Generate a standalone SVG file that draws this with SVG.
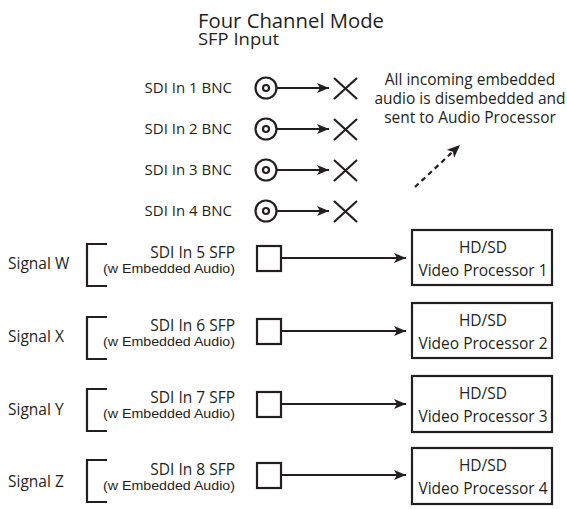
<svg xmlns="http://www.w3.org/2000/svg" width="567" height="509" viewBox="0 0 567 509">
<style>
text{font-family:"Open Sans","Liberation Sans",sans-serif;fill:#231f20}
.lbl{font-size:15px;text-anchor:end}
.sfl{font-size:15.5px;text-anchor:end}
.sub{font-family:"Liberation Sans",sans-serif;font-size:12px;text-anchor:end}
.sig{font-size:15.5px}
.box{fill:#fff;stroke:#231f20;stroke-width:2.2}
.ln{stroke:#231f20;stroke-width:2.2;fill:none}
.bx{font-size:15.5px;text-anchor:middle}
.note{font-size:15.5px;text-anchor:middle}
</style>
<defs>
<marker id="ah" viewBox="0 0 12 10" refX="12" refY="5" markerWidth="12" markerHeight="10" markerUnits="userSpaceOnUse" orient="auto">
<path d="M0,0 L12,5 L0,10 L3,5 Z" fill="#231f20"/>
</marker>
<marker id="ahd" viewBox="0 0 12 10" refX="12" refY="5" markerWidth="13" markerHeight="11" markerUnits="userSpaceOnUse" orient="auto">
<path d="M0,0 L12,5 L0,10 L3,5 Z" fill="#231f20"/>
</marker>
</defs>
<g id="title">
<text x="198" y="28" style="font-size:20px" textLength="186" lengthAdjust="spacingAndGlyphs">Four Channel Mode</text>
<text x="198" y="45" style="font-size:16px" textLength="81" lengthAdjust="spacingAndGlyphs">SFP Input</text>
</g>
<g id="note">
<text class="note" x="470" y="85">All incoming embedded</text>
<text class="note" x="470" y="104">audio is disembedded and</text>
<text class="note" x="470" y="123">sent to Audio Processor</text>
</g>
<g id="bnc1"><text class="lbl" x="232" y="93">SDI In 1 BNC</text><circle cx="266" cy="88" r="10.5" class="ln" stroke-width="2.8"/><circle cx="266" cy="88" r="3" class="ln" stroke-width="2.4"/><path class="ln" d="M334,78 L357,99 M334,99 L357,78"/></g>
<g id="bnc2"><text class="lbl" x="232" y="134">SDI In 2 BNC</text><circle cx="266" cy="129" r="10.5" class="ln" stroke-width="2.8"/><circle cx="266" cy="129" r="3" class="ln" stroke-width="2.4"/><path class="ln" d="M334,119 L357,140 M334,140 L357,119"/></g>
<g id="bnc3"><text class="lbl" x="232" y="175">SDI In 3 BNC</text><circle cx="266" cy="170" r="10.5" class="ln" stroke-width="2.8"/><circle cx="266" cy="170" r="3" class="ln" stroke-width="2.4"/><path class="ln" d="M334,160 L357,181 M334,181 L357,160"/></g>
<g id="bnc4"><text class="lbl" x="232" y="216">SDI In 4 BNC</text><circle cx="266" cy="211" r="10.5" class="ln" stroke-width="2.8"/><circle cx="266" cy="211" r="3" class="ln" stroke-width="2.4"/><path class="ln" d="M334,201 L357,222 M334,222 L357,201"/></g>

<g id="sfp5"><text class="sig" x="8" y="269">Signal W</text><path class="ln" d="M107,244 H87 V286 H107"/><text class="sfl" x="235" y="258">SDI In 5 SFP</text><text class="sub" x="235" y="273" textLength="132" lengthAdjust="spacingAndGlyphs">(w Embedded Audio)</text><rect class="box" x="257" y="246" width="24" height="25"/></g>
<g id="sfp6"><text class="sig" x="8" y="342">Signal X</text><path class="ln" d="M107,317 H87 V359 H107"/><text class="sfl" x="235" y="331">SDI In 6 SFP</text><text class="sub" x="235" y="346" textLength="132" lengthAdjust="spacingAndGlyphs">(w Embedded Audio)</text><rect class="box" x="257" y="319" width="24" height="25"/></g>
<g id="sfp7"><text class="sig" x="8" y="415">Signal Y</text><path class="ln" d="M107,389 H87 V431 H107"/><text class="sfl" x="235" y="403">SDI In 7 SFP</text><text class="sub" x="235" y="418" textLength="132" lengthAdjust="spacingAndGlyphs">(w Embedded Audio)</text><rect class="box" x="257" y="392" width="24" height="25"/></g>
<g id="sfp8"><text class="sig" x="8" y="487">Signal Z</text><path class="ln" d="M107,460 H87 V502 H107"/><text class="sfl" x="235" y="475">SDI In 8 SFP</text><text class="sub" x="235" y="490" textLength="132" lengthAdjust="spacingAndGlyphs">(w Embedded Audio)</text><rect class="box" x="257" y="463" width="24" height="25"/></g>

<g id="vp1"><rect class="box" x="412" y="230" width="140" height="55"/><text class="bx" x="483" y="253">HD/SD</text><text class="bx" x="483" y="276">Video Processor 1</text></g>
<g id="vp2"><rect class="box" x="412" y="303" width="140" height="55"/><text class="bx" x="483" y="326">HD/SD</text><text class="bx" x="483" y="349">Video Processor 2</text></g>
<g id="vp3"><rect class="box" x="412" y="376" width="140" height="56"/><text class="bx" x="483" y="399">HD/SD</text><text class="bx" x="483" y="422">Video Processor 3</text></g>
<g id="vp4"><rect class="box" x="412" y="448" width="140" height="56"/><text class="bx" x="483" y="471">HD/SD</text><text class="bx" x="483" y="494">Video Processor 4</text></g>

<g id="connectors">
<path class="ln" d="M277,88 H329" marker-end="url(#ah)"/>
<path class="ln" d="M277,129 H329" marker-end="url(#ah)"/>
<path class="ln" d="M277,170 H329" marker-end="url(#ah)"/>
<path class="ln" d="M277,211 H329" marker-end="url(#ah)"/>
<path class="ln" d="M281,258 H406" marker-end="url(#ah)"/>
<path class="ln" d="M281,331 H406" marker-end="url(#ah)"/>
<path class="ln" d="M281,404 H406" marker-end="url(#ah)"/>
<path class="ln" d="M281,475 H406" marker-end="url(#ah)"/>
<path class="ln" d="M415,187 L460,145" stroke-width="2.5" stroke-dasharray="5,4" marker-end="url(#ahd)"/>
</g>
</svg>
